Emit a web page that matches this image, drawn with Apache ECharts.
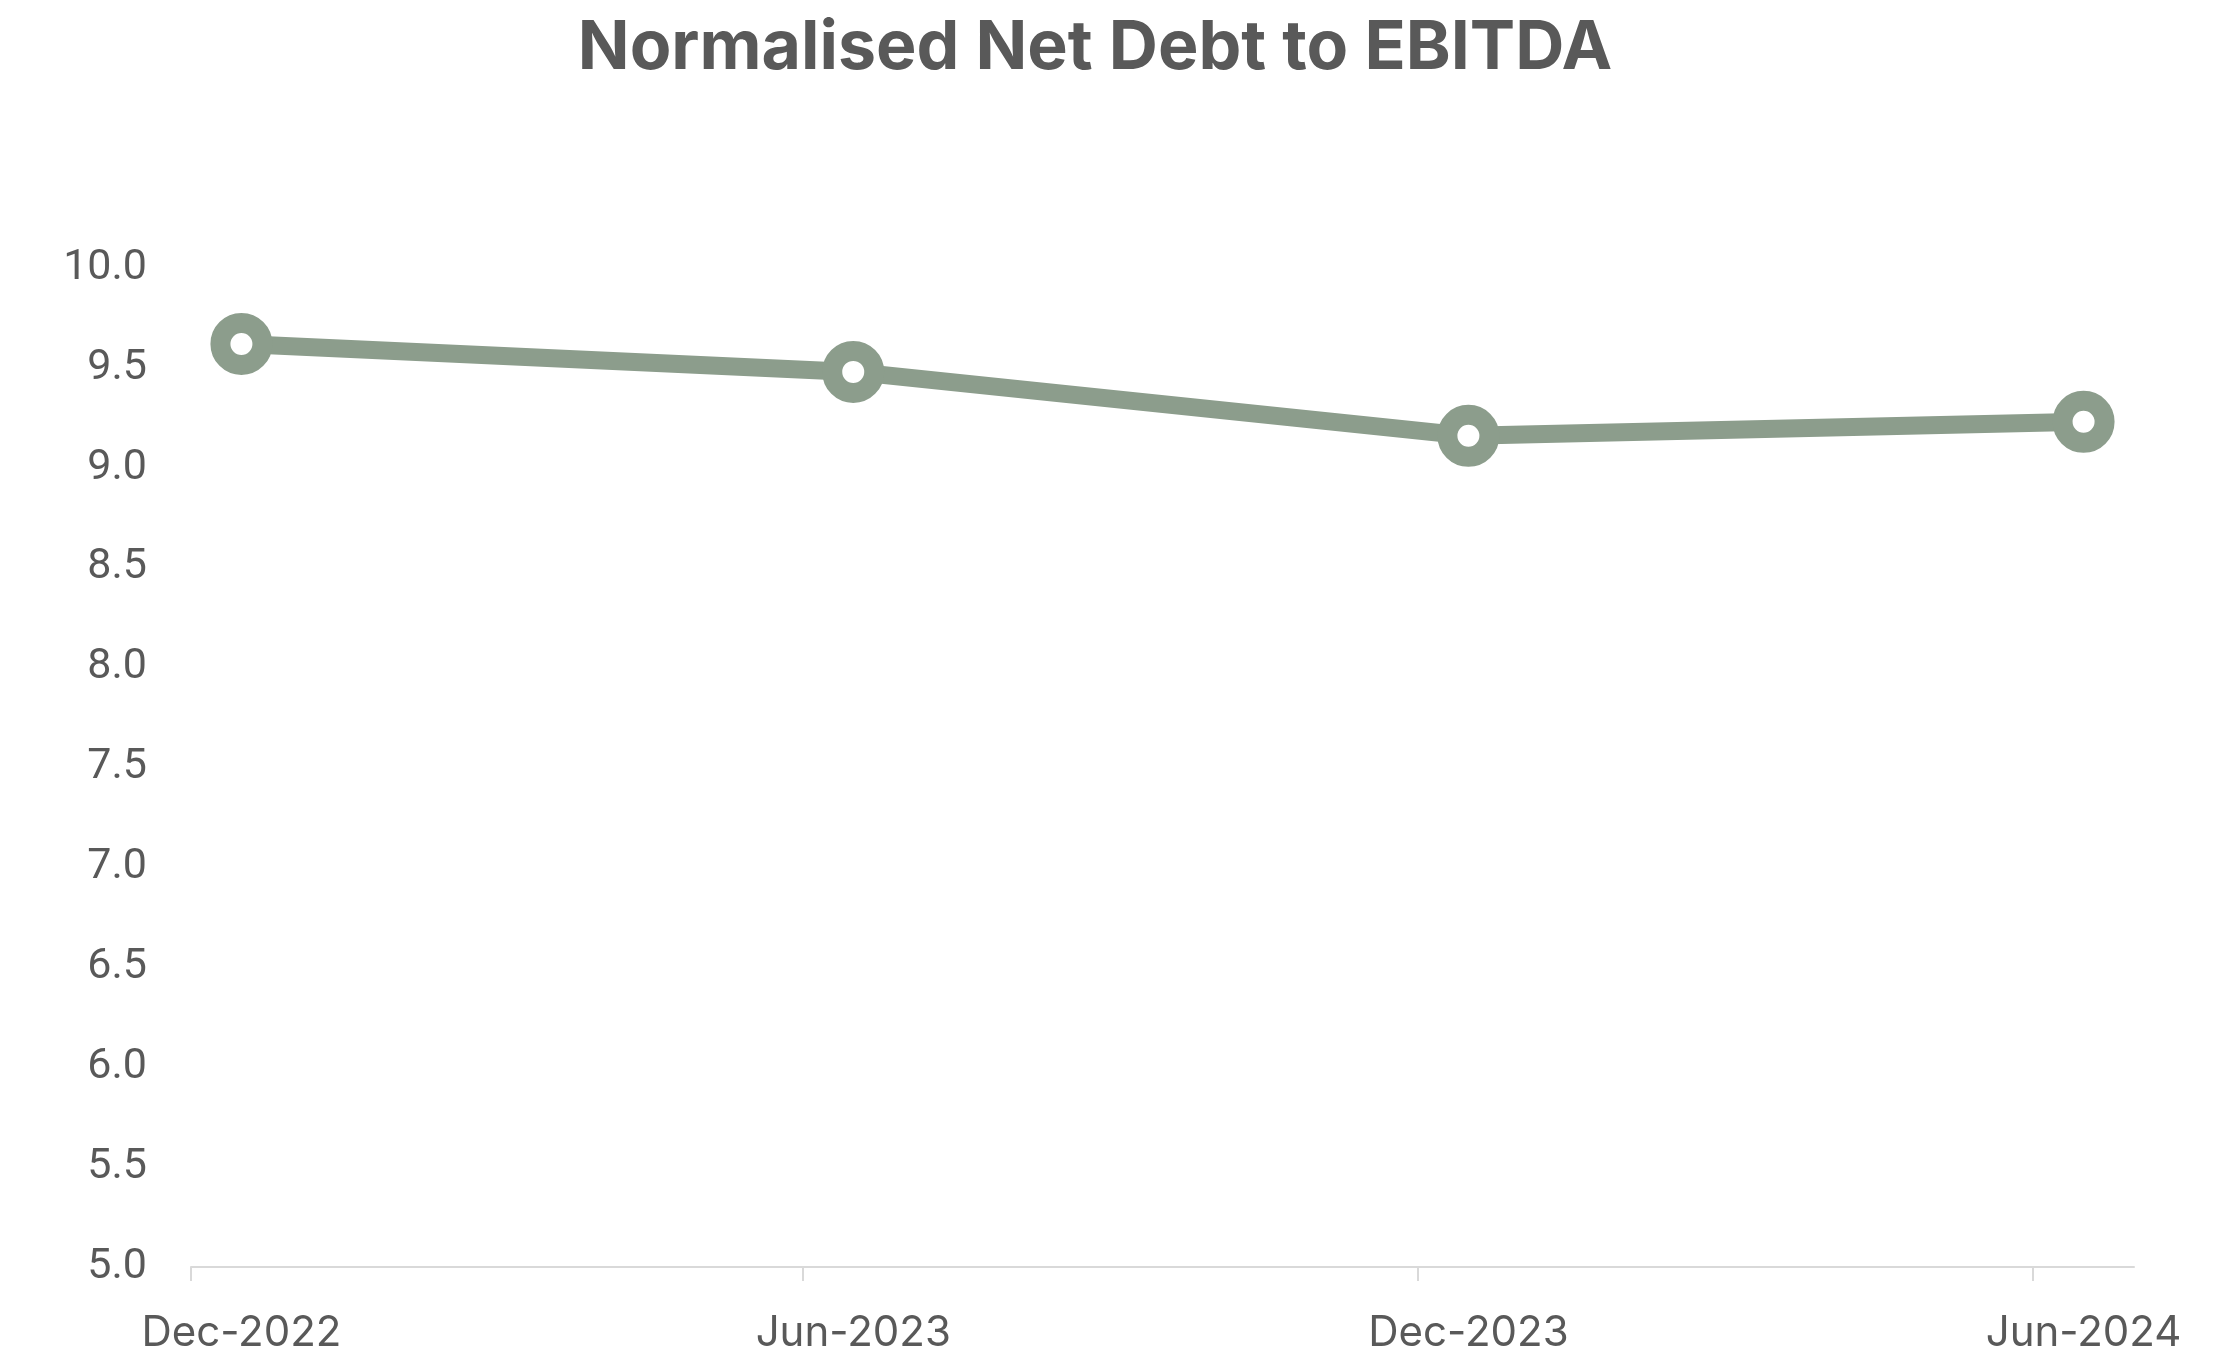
<!DOCTYPE html>
<html>
<head>
<meta charset="utf-8">
<title>Normalised Net Debt to EBITDA</title>
<script src="https://cdn.jsdelivr.net/npm/echarts@6/dist/echarts.min.js"></script>
<style>
  html, body { margin: 0; padding: 0; background: #fff; }
  #chart { width: 2216px; height: 1354px; }
</style>
</head>
<body>
<div id="chart"></div>
<script>
// reporting dates (plotted mid-month) and the ratio at each
const periodDates = ['2022-12-16', '2023-06-16', '2023-12-16', '2024-06-16']
const netDebtToEbitda = [9.62, 9.48, 9.16, 9.23]
// x axis ticks sit on the first of the month
const tickDates = ['2022-12-01', '2023-06-01', '2023-12-01', '2024-06-01']
const monthNames = ['Jan', 'Feb', 'Mar', 'Apr', 'May', 'Jun', 'Jul', 'Aug', 'Sep', 'Oct', 'Nov', 'Dec']

const textColor = '#595959'
const lineColor = '#8c9d8c'

const toTime = s => new Date(s + 'T00:00:00Z').getTime()

const chart = echarts.init(document.getElementById('chart'))
chart.setOption({
  animation: false,
  backgroundColor: '#fff',
  title: {
    text: 'Normalised Net Debt to EBITDA',
    left: 1090,
    textAlign: 'center', // title sits a touch left of the page centre
    top: 10,
    textStyle: {
      color: textColor,
      fontFamily: 'Inter',
      fontWeight: 'bold',
      fontSize: 68
    }
  },
  grid: {
    left: 191,
    right: 82,
    top: 268,
    bottom: 79,
    containLabel: false
  },
  // plain value axis holding timestamps, so ticks and labels can be placed apart
  xAxis: {
    type: 'value',
    min: toTime('2022-12-01'),
    max: toTime('2024-07-01'),
    axisLine: {
      show: true,
      lineStyle: { color: '#d9d9d9', width: 2 }
    },
    axisTick: {
      show: true,
      length: 14,
      customValues: tickDates.map(toTime),
      lineStyle: { color: '#d9d9d9', width: 2 }
    },
    axisLabel: {
      customValues: periodDates.map(toTime),
      margin: 45,
      color: textColor,
      fontFamily: 'Inter',
      fontSize: 42,
      formatter: function (val) {
        const d = new Date(val)
        return monthNames[d.getUTCMonth()] + '-' + d.getUTCFullYear()
      }
    },
    splitLine: { show: false }
  },
  yAxis: {
    type: 'value',
    min: 5,
    max: 10,
    interval: 0.5,
    axisLine: { show: false },
    axisTick: { show: false },
    splitLine: { show: false },
    axisLabel: {
      margin: 44,
      padding: [6, 0, 0, 0],
      color: textColor,
      fontFamily: 'Roboto',
      fontSize: 43,
      formatter: v => v.toFixed(1)
    }
  },
  series: [
    {
      name: 'Normalised Net Debt to EBITDA',
      type: 'line',
      data: periodDates.map((d, i) => [toTime(d), netDebtToEbitda[i]]),
      symbol: 'circle',
      symbolSize: 42,
      lineStyle: { color: lineColor, width: 18 },
      itemStyle: {
        color: '#fff',
        borderColor: lineColor,
        borderWidth: 20
      }
    }
  ]
})
</script>
</body>
</html>
